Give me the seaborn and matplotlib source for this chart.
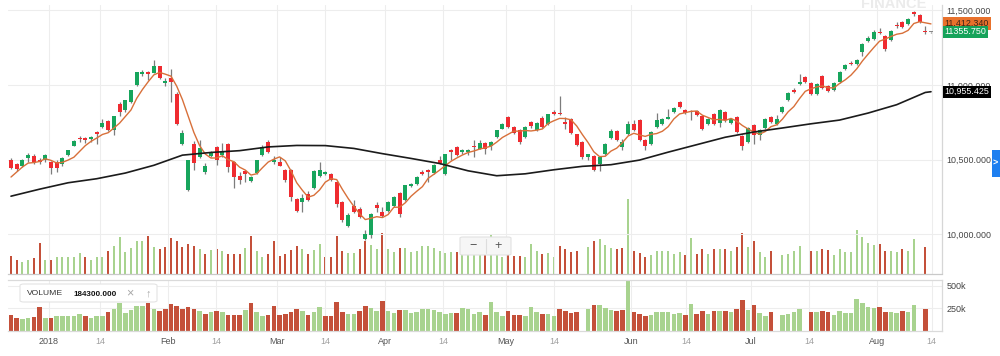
import numpy as np
import pandas as pd
import matplotlib
matplotlib.use("Agg")
import matplotlib.pyplot as plt
import matplotlib.transforms as mtransforms
from matplotlib.patches import Rectangle, FancyBboxPatch
from matplotlib.lines import Line2D
import seaborn as sns

# daily candles, 21 Dec 2017 .. 14 Aug 2018 (one entry per trading day)
opens = [10496, 10473, 10455, 10514, 10527, 10500, 10500, 10482, 10482, 10473,
         10531, 10593, 10647, 10647, 10640, 10683, 10718, 10759, 10701, 10875,
         10830, 10884, 11000, 11071, 11089, 11080, 11125, 11013, 11045, 10942,
         10603, 10295, 10607, 10518, 10417, 10522, 10585, 10533, 10603, 10487,
         10389, 10424, 10357, 10411, 10528, 10620, 10482, 10482, 10433, 10429,
         10238, 10218, 10267, 10307, 10388, 10406, 10406, 10351, 10217, 10054,
         10188, 10172, 9971, 9993, 10194, 10150, 10156, 10192, 10277, 10232,
         10326, 10339, 10417, 10429, 10411, 10496, 10402, 10563, 10585, 10551,
         10551, 10592, 10574, 10612, 10589, 10652, 10708, 10786, 10719, 10697,
         10652, 10752, 10697, 10781, 10741, 10813, 10813, 10752, 10775, 10670,
         10618, 10518, 10522, 10469, 10536, 10647, 10692, 10585, 10674, 10737,
         10768, 10634, 10603, 10719, 10737, 10775, 10817, 10886, 10830, 10826,
         10826, 10790, 10737, 10808, 10746, 10819, 10746, 10786, 10656, 10618,
         10730, 10663, 10714, 10786, 10741, 10819, 10897, 10964, 11009, 11054,
         11013, 10938, 11058, 10996, 10964, 11020, 11109, 11147, 11138, 11221,
         11295, 11310, 11355, 11326, 11299, 11404, 11422, 11411, 11489, 11467,
         11362, 11353]
highs = [10509, 10480, 10504, 10544, 10540, 10513, 10536, 10490, 10495, 10518,
         10566, 10630, 10660, 10652, 10660, 10692, 10773, 10764, 10795, 10888,
         10902, 10968, 11090, 11098, 11094, 11165, 11128, 11050, 11109, 10950,
         10700, 10497, 10623, 10634, 10478, 10560, 10590, 10612, 10612, 10492,
         10420, 10430, 10392, 10500, 10596, 10634, 10522, 10518, 10440, 10435,
         10245, 10268, 10291, 10430, 10482, 10425, 10413, 10360, 10222, 10140,
         10228, 10183, 10027, 10145, 10216, 10183, 10222, 10255, 10283, 10333,
         10345, 10390, 10428, 10435, 10468, 10522, 10540, 10570, 10590, 10570,
         10570, 10634, 10634, 10618, 10623, 10700, 10745, 10792, 10725, 10702,
         10722, 10760, 10750, 10790, 10808, 10830, 10924, 10785, 10782, 10675,
         10622, 10540, 10528, 10522, 10612, 10708, 10698, 10640, 10759, 10763,
         10774, 10640, 10690, 10812, 10780, 10842, 10853, 10892, 10836, 10832,
         10832, 10796, 10782, 10814, 10841, 10825, 10782, 10792, 10662, 10720,
         10736, 10707, 10781, 10792, 10800, 10859, 10952, 10980, 11076, 11060,
         11019, 11015, 11070, 11002, 11019, 11093, 11138, 11160, 11176, 11283,
         11330, 11370, 11385, 11332, 11368, 11420, 11430, 11450, 11495, 11473,
         11393, 11355]
lows = [10435, 10427, 10450, 10482, 10473, 10473, 10486, 10407, 10420, 10455,
        10527, 10588, 10620, 10611, 10620, 10602, 10714, 10690, 10666, 10790,
        10822, 10880, 10995, 11060, 11036, 11078, 11040, 10996, 10886, 10730,
        10598, 10290, 10433, 10510, 10402, 10515, 10462, 10520, 10420, 10313,
        10340, 10353, 10350, 10405, 10522, 10545, 10473, 10455, 10350, 10223,
        10147, 10147, 10225, 10300, 10385, 10395, 10355, 10183, 10083, 10050,
        10145, 10110, 9960, 9978, 10150, 10116, 10150, 10185, 10116, 10225,
        10318, 10333, 10400, 10350, 10405, 10470, 10395, 10500, 10525, 10540,
        10530, 10518, 10570, 10540, 10567, 10645, 10702, 10710, 10670, 10607,
        10645, 10712, 10690, 10712, 10735, 10800, 10798, 10708, 10672, 10590,
        10507, 10500, 10425, 10425, 10530, 10640, 10628, 10567, 10668, 10690,
        10628, 10563, 10597, 10712, 10730, 10770, 10810, 10846, 10805, 10768,
        10790, 10700, 10730, 10730, 10719, 10755, 10740, 10678, 10563, 10612,
        10607, 10630, 10708, 10746, 10735, 10812, 10890, 10945, 11003, 11012,
        10930, 10932, 10975, 10950, 10958, 11014, 11103, 11132, 11132, 11195,
        11289, 11304, 11340, 11230, 11293, 11385, 11380, 11405, 11465, 11415,
        11345, 11351]
closes = [10447, 10440, 10496, 10531, 10487, 10484, 10531, 10442, 10442, 10509,
          10562, 10625, 10638, 10634, 10652, 10674, 10745, 10696, 10790, 10817,
          10897, 10964, 11085, 11085, 11076, 11130, 11045, 11027, 11018, 10741,
          10680, 10495, 10478, 10580, 10455, 10544, 10500, 10551, 10451, 10384,
          10362, 10402, 10384, 10495, 10585, 10551, 10500, 10460, 10362, 10249,
          10155, 10245, 10232, 10423, 10428, 10417, 10362, 10201, 10094, 10127,
          10150, 10116, 10005, 10138, 10179, 10121, 10217, 10250, 10138, 10328,
          10339, 10384, 10406, 10417, 10462, 10478, 10536, 10549, 10529, 10563,
          10563, 10585, 10612, 10574, 10618, 10697, 10741, 10719, 10679, 10618,
          10719, 10725, 10746, 10719, 10804, 10808, 10804, 10741, 10679, 10596,
          10518, 10536, 10433, 10518, 10607, 10692, 10634, 10618, 10741, 10697,
          10634, 10589, 10685, 10768, 10775, 10786, 10848, 10853, 10813, 10817,
          10797, 10708, 10775, 10737, 10830, 10763, 10775, 10685, 10589, 10714,
          10663, 10701, 10775, 10752, 10775, 10853, 10946, 10951, 11020, 11018,
          10938, 11009, 10982, 10960, 11013, 11087, 11132, 11138, 11170, 11277,
          11317, 11355, 11348, 11243, 11362, 11393, 11388, 11444, 11473, 11422,
          11355, 11353]
# closes of the four sessions before the window (for the 5 day average)
close_before = [10270, 10330, 10400, 10470]

# volume in thousands, nan = no bar
volumes = [170, 140, 125, 140, 152, 265, 140, 140, 159, 163,
           163, 159, 189, 163, 140, 163, 163, 201, 239, 303,
           197, 227, 273, 273, 311, 235, 220, 235, 295, 273,
           235, 258, 239, 220, 182, 208, 216, 201, 178, 178,
           178, 227, 311, 201, 159, 178, 273, 170, 182, 208,
           239, 220, 178, 208, 258, 163, 163, 314, 201, 189,
           189, 220, 273, 250, 220, 333, 220, 197, 224, 227,
           197, 205, 239, 239, 227, 201, 189, 197, 197, 250,
           235, 182, 208, 178, 322, 210, 159, 216, 170, 170,
           159, 258, 205, 182, 189, 159, 239, 216, 197, 205,
           np.nan, 235, 280, 288, 250, 224, 220, 224, 580, 205,
           189, 159, 174, 205, 201, 201, 182, 197, 174, 295,
           182, 216, 182, 220, 220, 220, 205, 235, 337, 231,
           280, 193, 159, 205, np.nan, 174, 182, 205, 239, np.nan,
           201, 201, 220, 208, 174, 216, 193, 193, 356, 307,
           265, 250, 258, 201, 205, 193, 216, 201, 288, np.nan,
           235, np.nan]

# long moving average, read every 5 sessions
ma_long_idx = [0, 5, 10, 15, 20, 25, 30, 35, 40, 45, 50, 55, 60, 65, 70, 75, 80,
               85, 90, 95, 100, 105, 110, 115, 120, 125, 130, 135, 140, 145, 150,
               155, 160, 161]
ma_long = [10255, 10302, 10345, 10372, 10410, 10462, 10530, 10548, 10560, 10585,
           10595, 10594, 10575, 10540, 10508, 10474, 10425, 10392, 10405, 10432,
           10455, 10466, 10497, 10550, 10600, 10650, 10685, 10712, 10740, 10765,
           10812, 10868, 10950, 10955]

tick_pos = [6.65, 15.6, 27.5, 35.9, 46.6, 55.0, 65.5, 75.6, 86.6, 95.0,
            108.5, 118.1, 129.5, 139.7, 151.6, 161.1]
tick_labels = ['2018', '14', 'Feb', '14', 'Mar', '14', 'Apr', '14', 'May', '14',
               'Jun', '14', 'Jul', '14', 'Aug', '14']
price_ticks = [10000, 10500, 11000, 11500]
vol_ticks = [250, 500]
vol_tick_labels = ['250k', '500k']

ma_short_last = 11412.340
last_price = 11355.750
ma_long_last = 10955.425
volume_readout = '184300.000'

UP = '#17a55c'
DOWN = '#ef2b30'
VUP = '#a8d38f'
VDOWN = '#c4503a'

df = pd.DataFrame({'open': opens, 'high': highs, 'low': lows, 'close': closes,
                   'vol': volumes})
df['idx'] = np.arange(len(df))
allc = pd.Series(close_before + closes)
df['ma5'] = allc.rolling(5).mean().iloc[len(close_before):].values
prev = pd.Series([close_before[-1]] + closes[:-1])
df['vcol'] = np.where(df['close'] >= prev, VUP, VDOWN)
df['ccol'] = np.where(df['close'] > df['open'], UP,
                      np.where(df['close'] < df['open'], DOWN, '#888888'))
df['body_lo'] = df[['open', 'close']].min(axis=1)
df['body_h'] = (df['open'] - df['close']).abs().clip(lower=9)

sns.set_theme(style='white')
plt.rcParams['font.family'] = ['Liberation Sans', 'DejaVu Sans']

fig = plt.figure(figsize=(10, 3.56), dpi=100)
W, H = 1000, 356
main_rect = [8 / W, 1 - 273.5 / H, 934 / W, 268.5 / H]
vol_rect = [8 / W, 1 - 330.5 / H, 934 / W, 51 / H]
xlim = (-0.525, 162.93)
grid_c = '#ededed'

# volume overlay behind the candles
ax_ov = fig.add_axes(main_rect)
ax_ov.bar(df['idx'], df['vol'], width=0.34, color=df['vcol'], linewidth=0)
ax_ov.set_xlim(*xlim)
ax_ov.set_ylim(39, 2000)
ax_ov.axis('off')

ax = fig.add_axes(main_rect, facecolor='none')
ax.vlines(df['idx'], df['low'], df['high'], color='#7c7c7c', lw=0.9, zorder=2)
ax.bar(df['idx'], df['body_h'], bottom=df['body_lo'], width=0.7,
       color=df['ccol'], linewidth=0, zorder=3)
sns.lineplot(x=df['idx'], y=df['ma5'], ax=ax, color='#d8703a', linewidth=1.0,
             zorder=4)
sns.lineplot(x=ma_long_idx, y=ma_long, ax=ax, color='#1b1b1b', linewidth=1.2,
             zorder=4)
ax.set_xlim(*xlim)
ax.set_ylim(9737, 11536)
ax.set_xlabel('')
ax.set_ylabel('')
ax.yaxis.tick_right()
ax.set_yticks(price_ticks)
ax.set_yticklabels([f'{v:,.3f}' for v in price_ticks])
ax.set_xticks(tick_pos)
ax.set_xticklabels([])
ax.tick_params(axis='both', length=0)
ax.tick_params(axis='y', labelsize=6.4, labelcolor='#444444', pad=3.4)
ax.grid(True, color=grid_c, lw=0.8)
ax.set_axisbelow(True)
for s in ['left', 'top']:
    ax.spines[s].set_visible(False)
ax.spines['right'].set_color('#d6d6d6')
ax.spines['bottom'].set_color('#c9c9c9')
ax.spines['right'].set_linewidth(0.9)
ax.spines['bottom'].set_linewidth(0.9)

# price tags on the right axis
blend = mtransforms.blended_transform_factory(ax.transAxes, ax.transData)
for val, txt, fc, tc in [(ma_short_last, f'{ma_short_last:,.3f}', '#e8712c', '#3b2416'),
                         (last_price, f'{last_price:.3f}', '#15a35a', 'white'),
                         (ma_long_last, f'{ma_long_last:,.3f}', '#000000', 'white')]:
    ax.annotate(txt, xy=(1.0, val), xycoords=blend, xytext=(1.9, 0),
                textcoords='offset points', ha='left', va='center',
                fontsize=6.4, color=tc, annotation_clip=False, zorder=6,
                bbox=dict(boxstyle='square,pad=0.18', fc=fc, ec='none'))

# volume panel
ax_v = fig.add_axes(vol_rect)
ax_v.bar(df['idx'], df['vol'], width=0.8, color=df['vcol'], linewidth=0)
ax_v.set_xlim(*xlim)
ax_v.set_ylim(0, 569)
ax_v.yaxis.tick_right()
ax_v.set_yticks(vol_ticks)
ax_v.set_yticklabels(vol_tick_labels)
ax_v.set_xticks(tick_pos)
ax_v.set_xticklabels(tick_labels)
ax_v.tick_params(axis='both', length=0, labelsize=6.5)
ax_v.tick_params(axis='y', labelcolor='#444444', pad=3.4)
ax_v.tick_params(axis='x', pad=4.5)
for lab, txt in zip(ax_v.get_xticklabels(), tick_labels):
    lab.set_color('#a0a0a0' if txt == '14' else '#555555')
ax_v.grid(True, color=grid_c, lw=0.8)
ax_v.set_axisbelow(True)
ax_v.spines['left'].set_visible(False)
for s in ['top', 'right', 'bottom']:
    ax_v.spines[s].set_color('#dadada')
    ax_v.spines[s].set_linewidth(0.9)

# volume readout box
fig.add_artist(FancyBboxPatch((20 / W, 1 - 302 / H), 137 / W, 18 / H,
                              boxstyle='round,pad=0,rounding_size=0.004',
                              transform=fig.transFigure, fc='white',
                              ec='#e4e4e4', lw=0.8, zorder=5))
fig.text(27 / W, 1 - 293.5 / H, 'VOLUME', fontsize=6.1, color='#333333',
         va='center', ha='left', zorder=6)
fig.text(73 / W, 1 - 294.5 / H, volume_readout, fontsize=5.8, color='#111111',
         fontweight='bold', va='center', ha='left', zorder=6)
fig.text(130 / W, 1 - 293.5 / H, '\u00d7', fontsize=9, color='#a8a8a8',
         va='center', ha='center', zorder=6)
fig.text(148 / W, 1 - 293.5 / H, '\u2191', fontsize=8, color='#a8a8a8',
         va='center', ha='center', zorder=6)

# zoom buttons
fig.add_artist(FancyBboxPatch((460 / W, 1 - 255 / H), 51 / W, 18 / H,
                              boxstyle='round,pad=0,rounding_size=0.003',
                              transform=fig.transFigure, fc='#f6f6f6',
                              ec='#e2e2e2', lw=0.8, zorder=5))
fig.add_artist(Line2D([486 / W, 486 / W], [1 - 253 / H, 1 - 239 / H],
                      color='#dddddd', lw=0.8, zorder=6))
fig.text(473 / W, 1 - 246 / H, '\u2212', fontsize=9, color='#555555',
         ha='center', va='center', zorder=6)
fig.text(498 / W, 1 - 246 / H, '+', fontsize=9, color='#555555',
         ha='center', va='center', zorder=6)

# watermark and side tab
fig.text(894 / W, 1 - 4 / H, 'FINANCE', fontsize=10.5, color='#ebebeb',
         fontweight='bold', ha='center', va='center')
fig.add_artist(Rectangle((991.5 / W, 1 - 176.5 / H), 8.5 / W, 26.5 / H,
                         transform=fig.transFigure, fc='#1e7ff0', ec='none'))
fig.text(995.5 / W, 1 - 163 / H, '>', fontsize=6.5, color='white',
         ha='center', va='center', fontweight='bold')

fig.savefig('out.png', dpi=100)
